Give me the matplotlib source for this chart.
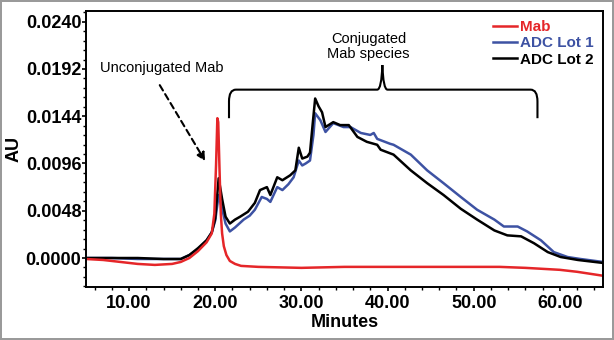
import matplotlib
matplotlib.use("Agg")
import matplotlib.pyplot as plt
from matplotlib.path import Path
from matplotlib.patches import PathPatch, FancyArrowPatch
from matplotlib.ticker import MultipleLocator, FormatStrFormatter

plt.rcParams['font.family'] = ['Liberation Sans', 'DejaVu Sans']

# ---- data ----
mab_x = [5, 7, 9, 11, 13, 15, 16, 17, 18, 19, 19.6, 19.9, 20.1, 20.25, 20.35, 20.5, 20.65,
         20.8, 21.0, 21.3, 21.7, 22.3, 23, 25, 30, 35, 40, 45, 50, 53, 56, 58, 60, 62, 65]
mab_y = [-0.0001, -0.0002, -0.0004, -0.0006, -0.0007, -0.0006, -0.0004, 0.0000, 0.0007, 0.0016,
         0.0025, 0.0045, 0.0095, 0.0142, 0.0138, 0.0090, 0.0045, 0.0025, 0.0012, 0.0003, -0.0003,
         -0.0006, -0.0008, -0.0009, -0.0010, -0.0009, -0.0009, -0.0009, -0.0009, -0.0009,
         -0.0010, -0.0011, -0.0012, -0.0014, -0.0018]

lot1_x = [5, 8, 11, 14, 16, 17, 18, 19, 19.6, 20.0, 20.4, 20.8, 21.2, 21.7, 22.3, 23.3, 24.0,
          24.6, 25.4, 26.0, 26.4, 27.2, 27.8, 28.5, 29.1, 29.7, 30.1, 30.5, 31.0, 31.4, 31.6,
          32.2, 32.8, 33.7, 34.9, 35.7, 36.9, 38.0, 38.4, 38.8, 40.3, 40.7, 42.7, 44.6, 46.5,
          48.5, 50.4, 52.4, 53.5, 55.1, 56.2, 57.8, 59.3, 60.9, 62.4, 65]
lot1_y = [0.0000, 0.0000, -0.0001, -0.0001, -0.0001, 0.0003, 0.0009, 0.0018, 0.0026, 0.0038,
          0.0064, 0.0050, 0.0035, 0.0027, 0.0031, 0.0039, 0.0043, 0.0049, 0.0062, 0.0060,
          0.0057, 0.0072, 0.0069, 0.0075, 0.0082, 0.0099, 0.0094, 0.0096, 0.0099, 0.0125,
          0.0147, 0.0140, 0.0128, 0.0137, 0.0133, 0.0133, 0.0127, 0.0125, 0.0127, 0.0121,
          0.0116, 0.0115, 0.0105, 0.0089, 0.0076, 0.0062, 0.0049, 0.0039, 0.0032, 0.0032,
          0.0027, 0.0018, 0.0006, 0.0001, -0.0001, -0.0004]

lot2_x = [5, 8, 11, 14, 16, 17, 18, 19, 19.6, 20.0, 20.4, 20.8, 21.2, 21.7, 22.3, 22.9, 23.8,
          24.6, 25.2, 26.0, 26.4, 27.2, 27.8, 28.7, 29.3, 29.7, 30.1, 30.7, 31.0, 31.3, 31.6,
          32.0, 32.4, 32.8, 33.7, 34.5, 35.5, 36.5, 37.6, 38.8, 39.2, 40.7, 42.7, 44.6, 46.5,
          48.5, 50.4, 52.4, 53.9, 55.5, 57.0, 58.6, 60.1, 62.1, 65]
lot2_y = [0.0000, 0.0000, 0.0000, -0.0001, -0.0001, 0.0003, 0.0010, 0.0018, 0.0026, 0.0040,
          0.0081, 0.0060, 0.0042, 0.0035, 0.0039, 0.0042, 0.0047, 0.0056, 0.0069, 0.0072,
          0.0064, 0.0082, 0.0079, 0.0084, 0.0089, 0.0112, 0.0101, 0.0103, 0.0107, 0.0135,
          0.0162, 0.0154, 0.0148, 0.0133, 0.0138, 0.0135, 0.0135, 0.0123, 0.0118, 0.0115,
          0.0110, 0.0105, 0.0089, 0.0076, 0.0064, 0.0050, 0.0039, 0.0028, 0.0023, 0.0022,
          0.0015, 0.0006, 0.0001, -0.0002, -0.0005]

series_labels = ["Mab", "ADC Lot 1", "ADC Lot 2"]
y_ticks = [0.0000, 0.0048, 0.0096, 0.0144, 0.0192, 0.0240]
x_ticks = [10, 20, 30, 40, 50, 60]

RED = "#e52629"
BLUE = "#3d52a3"
BLACK = "#000000"

fig = plt.figure(figsize=(6.14, 3.40), dpi=100)
fig.patch.set_edgecolor("#9a9a9a")
fig.patch.set_linewidth(1.5)
ax = fig.add_axes([0.140, 0.156, 0.842, 0.812])

l1, = ax.plot(lot1_x, lot1_y, color=BLUE, lw=1.8, label=series_labels[1])
l2, = ax.plot(lot2_x, lot2_y, color=BLACK, lw=1.8, label=series_labels[2])
l0, = ax.plot(mab_x, mab_y, color=RED, lw=1.8, label=series_labels[0])

ax.set_xlim(5, 65)
ax.set_ylim(-0.00294, 0.0251)
ax.set_xticks(x_ticks)
ax.set_yticks(y_ticks)
ax.xaxis.set_minor_locator(MultipleLocator(2))
ax.yaxis.set_minor_locator(MultipleLocator(0.00096))
ax.xaxis.set_major_formatter(FormatStrFormatter('%.2f'))
ax.yaxis.set_major_formatter(FormatStrFormatter('%.4f'))
ax.tick_params(which='major', length=3, width=1.2, direction='out', labelsize=13, pad=0.3)
ax.tick_params(axis='x', which='major', pad=3)
ax.tick_params(which='minor', length=2.2, width=1.0, direction='out')
for lab in ax.get_xticklabels() + ax.get_yticklabels():
    lab.set_fontweight('bold')
for sp in ax.spines.values():
    sp.set_linewidth(1.4)

ax.set_xlabel("Minutes", fontsize=13, fontweight='bold', labelpad=1)
ax.set_ylabel("AU", fontsize=13, fontweight='bold')
ax.yaxis.set_label_coords(-0.122, 0.5)

leg = ax.legend(handles=[l0, l1, l2], loc='upper right', frameon=False,
                prop={'weight': 'bold', 'size': 11}, handlelength=1.6, handletextpad=0.2,
                labelspacing=0.15, borderaxespad=0.2,
                labelcolor=[RED, BLUE, BLACK])

# annotation: unconjugated Mab
ax.text(6.6, 0.0193, "Unconjugated Mab", fontsize=10.5, va='center', ha='left')
arr = FancyArrowPatch((13.4, 0.0178), (19.0, 0.0096), arrowstyle='-|>', mutation_scale=12,
                      linestyle=(0, (3, 2)), lw=1.5, color='black')
ax.add_patch(arr)

# curly bracket for conjugated species
yl, yh, yt = 0.0142, 0.0171, 0.0196
xl, xm, xr = 21.6, 39.4, 57.4
verts = [(xl, yl), (xl, yh - 0.0012), (xl, yh), (xl + 0.8, yh),
         (xm - 0.6, yh), (xm - 0.1, yh), (xm, yt),
         (xm + 0.1, yh), (xm + 0.6, yh),
         (xr - 0.8, yh), (xr, yh), (xr, yh - 0.0012), (xr, yl)]
codes = [Path.MOVETO, Path.LINETO, Path.CURVE3, Path.CURVE3,
         Path.LINETO, Path.CURVE3, Path.CURVE3,
         Path.CURVE3, Path.CURVE3,
         Path.LINETO, Path.CURVE3, Path.CURVE3, Path.LINETO]
ax.add_patch(PathPatch(Path(verts, codes), fill=False, lw=1.5, color='black'))
ax.text(37.8, 0.0215, "Conjugated\nMab species", fontsize=10.5, ha='center', va='center',
        linespacing=1.1)

fig.savefig("out.png", dpi=100)
